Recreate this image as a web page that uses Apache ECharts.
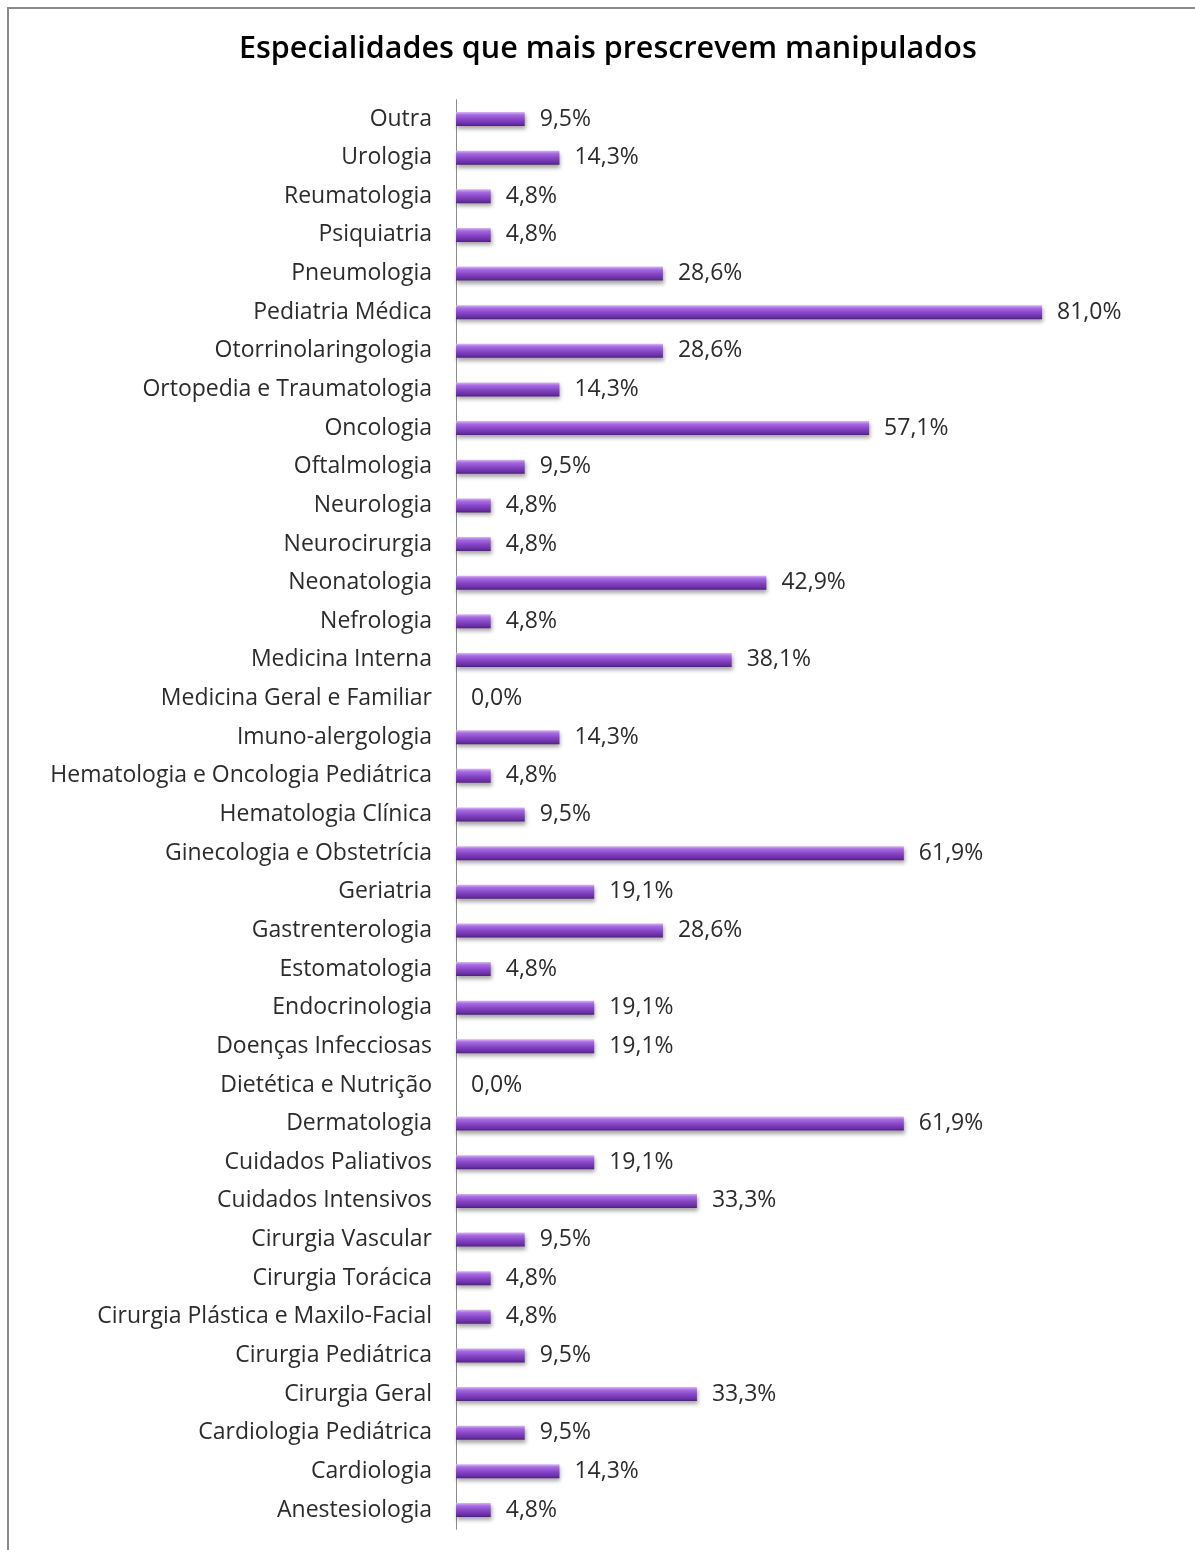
<!DOCTYPE html>
<html>
<head>
<meta charset="utf-8">
<script src="https://cdn.jsdelivr.net/npm/echarts@6/dist/echarts.min.js"></script>
<style>
  html, body { margin: 0; padding: 0; background: #fff; }
  #chart { width: 1195px; height: 1550px; }
</style>
</head>
<body>
<div id="chart"></div>
<script>
// Specialties, listed top to bottom
const specialties = [
  'Outra', 'Urologia', 'Reumatologia', 'Psiquiatria', 'Pneumologia',
  'Pediatria Médica', 'Otorrinolaringologia', 'Ortopedia e Traumatologia',
  'Oncologia', 'Oftalmologia', 'Neurologia', 'Neurocirurgia', 'Neonatologia',
  'Nefrologia', 'Medicina Interna', 'Medicina Geral e Familiar',
  'Imuno-alergologia', 'Hematologia e Oncologia Pediátrica',
  'Hematologia Clínica', 'Ginecologia e Obstetrícia', 'Geriatria',
  'Gastrenterologia', 'Estomatologia', 'Endocrinologia', 'Doenças Infecciosas',
  'Dietética e Nutrição', 'Dermatologia', 'Cuidados Paliativos',
  'Cuidados Intensivos', 'Cirurgia Vascular', 'Cirurgia Torácica',
  'Cirurgia Plástica e Maxilo-Facial', 'Cirurgia Pediátrica', 'Cirurgia Geral',
  'Cardiologia Pediátrica', 'Cardiologia', 'Anestesiologia'
];

// Share of respondents (%) per specialty
const percentages = [
  9.5, 14.3, 4.8, 4.8, 28.6,
  81.0, 28.6, 14.3,
  57.1, 9.5, 4.8, 4.8, 42.9,
  4.8, 38.1, 0.0,
  14.3, 4.8,
  9.5, 61.9, 19.1,
  28.6, 4.8, 19.1, 19.1,
  0.0, 61.9, 19.1,
  33.3, 9.5, 4.8,
  4.8, 9.5, 33.3,
  9.5, 14.3, 4.8
];

const chartTitle = 'Especialidades que mais prescrevem manipulados';

const fmt = v => v.toFixed(1).replace('.', ',') + '%';

const barFill = new echarts.graphic.LinearGradient(0, 0, 0, 1, [
  { offset: 0, color: '#d6b8f4' },
  { offset: 0.2, color: '#a86be2' },
  { offset: 0.55, color: '#8544c4' },
  { offset: 0.85, color: '#6a2fa3' },
  { offset: 1, color: '#4e1f7c' }
]);

const chart = echarts.init(document.getElementById('chart'), null, { renderer: 'canvas' });

chart.setOption({
  animation: false,
  backgroundColor: '#ffffff',
  title: {
    text: chartTitle,
    left: 234,
    top: 29,
    textStyle: {
      fontFamily: 'Open Sans',
      fontWeight: 600,
      fontSize: 30.5,
      color: '#000000'
    }
  },
  graphic: [{
    type: 'rect',
    shape: { x: 8, y: 8, width: 1300, height: 1700 },
    style: { fill: 'none', stroke: '#8a8a8a', lineWidth: 2 },
    silent: true
  }],
  grid: {
    left: 456,
    top: 99.7,
    width: 723.5,
    height: 1429.6,
    containLabel: false
  },
  xAxis: {
    type: 'value',
    min: 0,
    max: 100,
    show: false
  },
  yAxis: {
    type: 'category',
    data: specialties,
    inverse: true,
    axisLine: { show: true, lineStyle: { color: '#8c8c8c', width: 1 } },
    axisTick: { show: false },
    axisLabel: {
      margin: 24,
      padding: [4, 0, 0, 0],
      fontFamily: 'Open Sans',
      fontSize: 23,
      color: '#2b2b2b'
    },
    splitLine: { show: false }
  },
  series: [{
    type: 'bar',
    data: percentages,
    barWidth: 14,
    itemStyle: {
      color: barFill,
      shadowColor: 'rgba(0,0,0,0.35)',
      shadowBlur: 4,
      shadowOffsetX: 1,
      shadowOffsetY: 3
    },
    label: {
      show: true,
      position: 'right',
      distance: 15,
      padding: [4, 0, 0, 0],
      formatter: p => fmt(p.value),
      fontFamily: 'Open Sans',
      fontSize: 23,
      color: '#2b2b2b'
    }
  }]
});
</script>
</body>
</html>
